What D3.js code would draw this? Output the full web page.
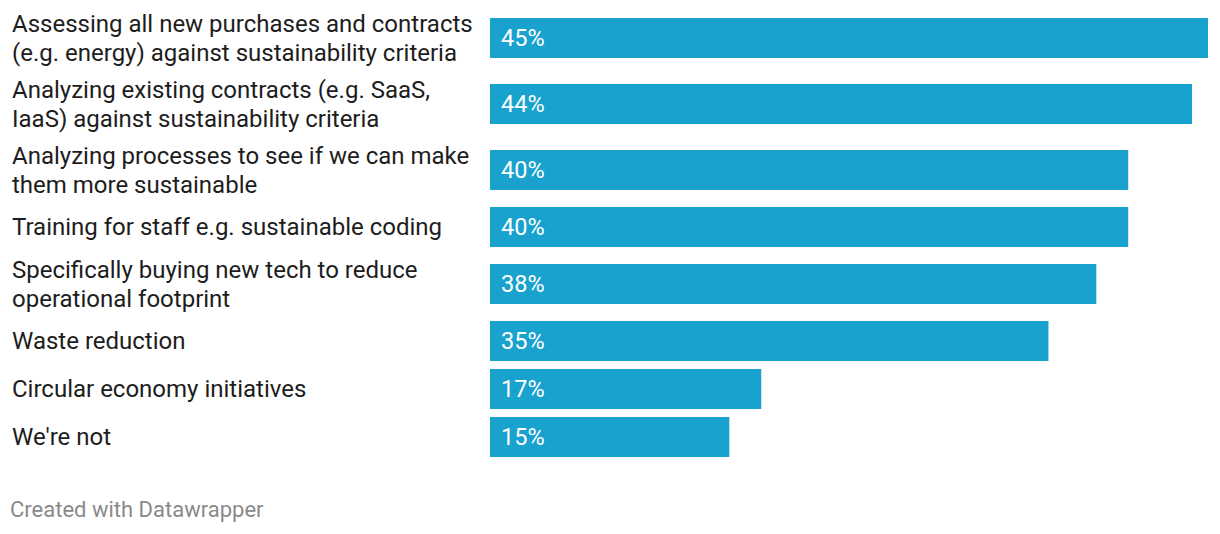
<!DOCTYPE html>
<html>
<head>
<meta charset="utf-8">
<script src="https://cdn.jsdelivr.net/npm/d3@7"></script>
<style>
  html, body { margin: 0; padding: 0; background: #ffffff; }
  svg { display: block; }
  text { font-family: Roboto, "Noto Sans", sans-serif; }
</style>
</head>
<body>
<svg id="chart" width="1220" height="534"></svg>
<script>
// ---- data ----
const categories = [
  "Assessing all new purchases and contracts\n(e.g. energy) against sustainability criteria",
  "Analyzing existing contracts (e.g. SaaS,\nIaaS) against sustainability criteria",
  "Analyzing processes to see if we can make\nthem more sustainable",
  "Training for staff e.g. sustainable coding",
  "Specifically buying new tech to reduce\noperational footprint",
  "Waste reduction",
  "Circular economy initiatives",
  "We're not"
];
const values = [45, 44, 40, 40, 38, 35, 17, 15];
const footerText = "Created with Datawrapper";

// ---- layout ----
const W = 1220, H = 534;
const barLeft = 490, barRight = 1208;
const labelX = 12;
const barH = 40, lineH = 29, gap = 8, topY = 9;
const labelSize = 24, valueSize = 23.5;
const barColor = "#19a2ce";

const svg = d3.select("#chart");

const x = d3.scaleLinear().domain([0, d3.max(values)]).range([barLeft, barRight]);

// variable row heights based on label line counts
const rows = categories.map((c, i) => {
  const lines = c.split("\n");
  return { label: c, lines, value: values[i], h: Math.max(lines.length * lineH, barH) };
});
let acc = topY;
rows.forEach(r => { r.top = acc; r.center = acc + r.h / 2; acc += r.h + gap; });

const g = svg.append("g");

const row = g.selectAll("g.row").data(rows).join("g").attr("class", "row");

row.append("rect")
  .attr("x", x(0))
  .attr("y", d => d.center - barH / 2)
  .attr("width", d => x(d.value) - x(0))
  .attr("height", barH)
  .attr("fill", barColor);

row.append("text")
  .attr("x", x(0) + 11)
  .attr("y", d => d.center)
  .attr("dy", "0.35em")
  .attr("fill", "#ffffff")
  .style("font-size", valueSize + "px")
  .text(d => d.value + "%");

row.each(function(d) {
  const t = d3.select(this).append("text")
    .attr("fill", "#1d1d1d")
    .style("font-size", labelSize + "px");
  const n = d.lines.length;
  d.lines.forEach((ln, k) => {
    t.append("tspan")
      .attr("x", labelX)
      .attr("y", d.center + (k - (n - 1) / 2) * lineH)
      .attr("dy", "0.35em")
      .text(ln);
  });
});

svg.append("text")
  .attr("x", 10)
  .attr("y", 509)
  .attr("dy", "0.35em")
  .attr("fill", "#8a8a8a")
  .style("font-size", "22px")
  .text(footerText);
</script>
</body>
</html>
